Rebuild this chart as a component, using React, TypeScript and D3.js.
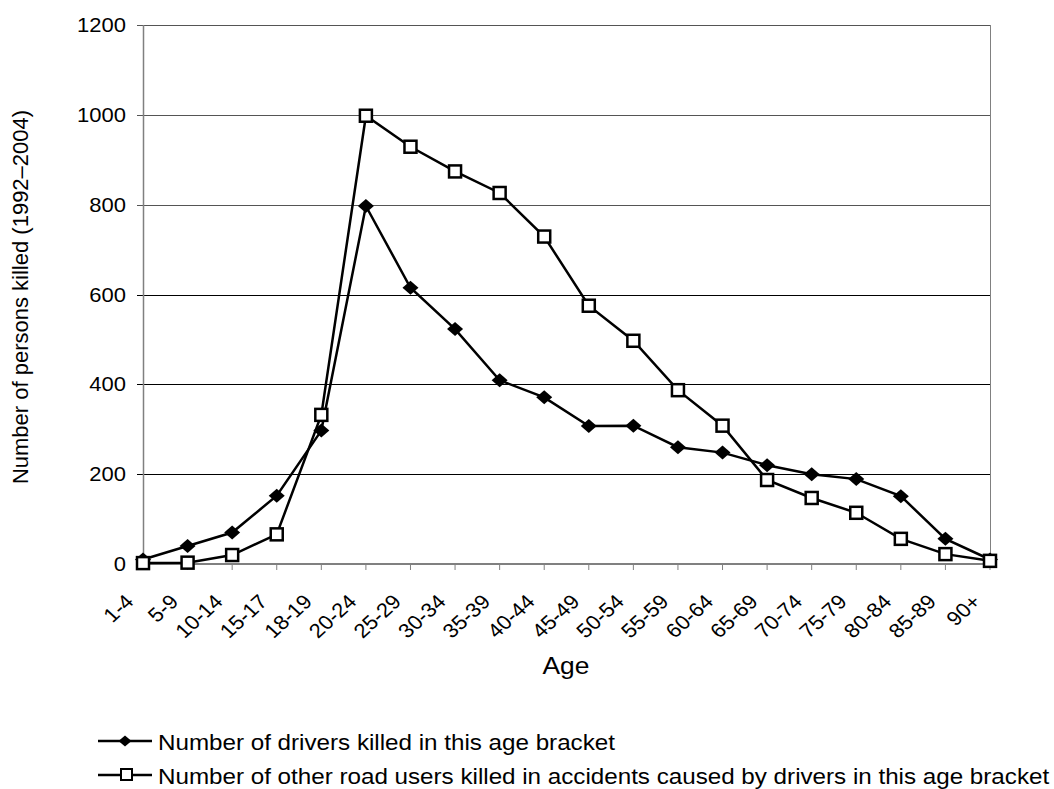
import React from "react";
import * as d3 from "d3";

const categories = ["1-4","5-9","10-14","15-17","18-19","20-24","25-29","30-34","35-39","40-44","45-49","50-54","55-59","60-64","65-69","70-74","75-79","80-84","85-89","90+"];
const drivers = [10,40,70,152,297,797,615,523,409,371,307,308,260,248,220,200,189,151,56,10];
const others = [2,3,20,66,332,998,929,874,826,729,575,497,387,308,187,147,114,56,22,7];
const yTicks = [0,200,400,600,800,1000,1200];
const seriesNames = ["Number of drivers killed in this age bracket","Number of other road users killed in accidents caused by drivers in this age bracket"];

const W = 1054, H = 789;
const left = 143, right = 990, top = 25, bottom = 564;
const FONT = "'Liberation Sans', Arial, sans-serif";
const SX = 1.1;

export default function App() {
  const x = d3.scalePoint<string>().domain(categories).range([left, right]);
  const y = d3.scaleLinear().domain([0, 1200]).range([bottom, top]);
  const line = d3.line<number>().x((_, i) => x(categories[i])!).y((d) => y(d));
  const diamond = (cx: number, cy: number, rx: number, ry: number) => `M${cx},${cy - ry}L${cx + rx},${cy}L${cx},${cy + ry}L${cx - rx},${cy}Z`;

  return (
    <svg width={W} height={H} style={{ position: "absolute", left: 0, top: 0, fontFamily: FONT }}>
      <rect width={W} height={H} fill="#fff" />
      {yTicks.map((t) => (
        <g key={t}>
          {t > 0 && <line x1={left - 6} x2={right} y1={Math.round(y(t)) + 0.5} y2={Math.round(y(t)) + 0.5} stroke={t >= 800 ? "#555" : "#000"} strokeWidth={1} />}
          {t === 0 && <line x1={left - 6} x2={left} y1={y(t)} y2={y(t)} stroke="#808080" strokeWidth={1} />}
          <text transform={`translate(126,${y(t)}) scale(${SX},1)`} dy="0.35em" textAnchor="end" fontSize={20} fill="#000">{t}</text>
        </g>
      ))}
      <line x1={right + 0.5} x2={right + 0.5} y1={top} y2={bottom} stroke="#808080" strokeWidth={1} />
      <line x1={left + 0.5} x2={left + 0.5} y1={top} y2={bottom} stroke="#808080" strokeWidth={1.5} />
      <line x1={left} x2={right} y1={bottom} y2={bottom} stroke="#808080" strokeWidth={2} />
      {categories.map((c) => (
        <g key={c}>
          <line x1={x(c)} x2={x(c)} y1={bottom} y2={bottom + 6} stroke="#808080" strokeWidth={1} />
          <text transform={`translate(${x(c)! - 8},${bottom + 39}) scale(${SX},1) rotate(-45)`} textAnchor="end" fontSize={20} fill="#000">{c}</text>
        </g>
      ))}
      <path d={line(others)!} fill="none" stroke="#000" strokeWidth={2.5} />
      <path d={line(drivers)!} fill="none" stroke="#000" strokeWidth={2.5} />
      {drivers.map((d, i) => (
        <path key={"d" + i} d={diamond(x(categories[i])!, y(d), 8, 7)} fill="#000" />
      ))}
      {others.map((d, i) => (
        <rect key={"o" + i} x={x(categories[i])! - 6} y={y(d) - 6} width={12} height={12} fill="#fff" stroke="#000" strokeWidth={2.5} />
      ))}
      <text transform={`translate(566,674) scale(${SX},1)`} textAnchor="middle" fontSize={24} fill="#000">Age</text>
      <text transform={`translate(28,297) rotate(-90)`} textAnchor="middle" fontSize={22} fill="#000">Number of persons killed (1992–2004)</text>
      <g>
        <line x1={98} x2={152} y1={741} y2={741} stroke="#000" strokeWidth={2.5} />
        <path d={diamond(125, 741, 6.5, 5.5)} fill="#000" />
        <text transform={`translate(158,750) scale(${SX},1)`} fontSize={22} fill="#000">{seriesNames[0]}</text>
        <line x1={98} x2={152} y1={775} y2={775} stroke="#000" strokeWidth={2.5} />
        <rect x={121} y={769} width={11} height={11} fill="#fff" stroke="#000" strokeWidth={2} />
        <text transform={`translate(158,784) scale(${SX},1)`} fontSize={22} fill="#000">{seriesNames[1]}</text>
      </g>
    </svg>
  );
}
